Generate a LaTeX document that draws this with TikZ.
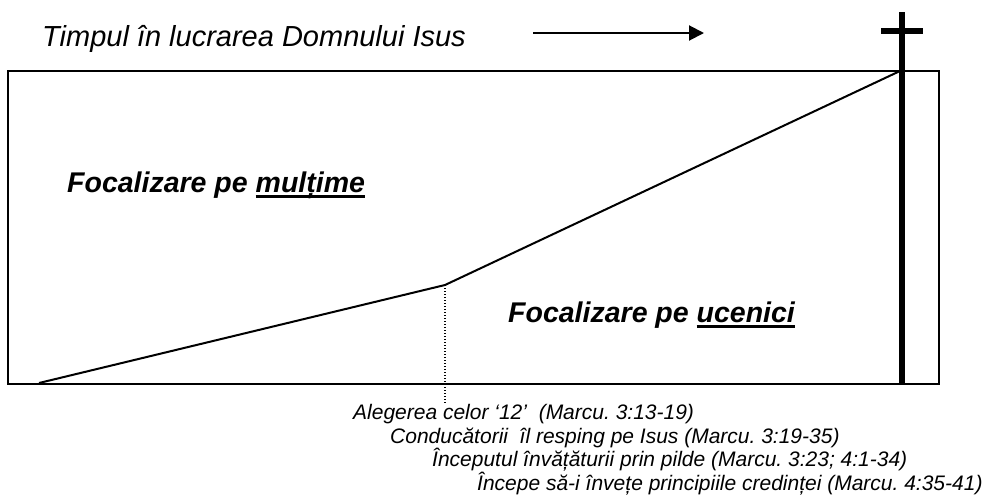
\documentclass[tikz,border=0pt]{standalone}
\usepackage{fontspec}
\setmainfont{Liberation Sans}
\usetikzlibrary{arrows.meta}
\frenchspacing

\tikzstyle{frame} = [line width=2pt, draw=black]
\tikzstyle{arrow} = [line width=2pt, -{Triangle[length=15pt,width=15pt]}]
\tikzstyle{timeline} = [line width=2pt, line join=round]
\tikzstyle{crossbeam} = [line width=6pt]
\tikzstyle{marker} = [line width=1.3pt, dash pattern=on 1.3pt off 1.7pt]
\tikzstyle{caption} = [anchor=base west, inner sep=0pt, font=\fontsize{29}{35}\selectfont\itshape]
\tikzstyle{focus} = [anchor=base west, inner sep=0pt, font=\fontsize{28.5}{34}\selectfont\bfseries\itshape]
\tikzstyle{event} = [anchor=base west, inner sep=0pt, font=\fontsize{21}{25}\selectfont\itshape]

\newcommand{\thickul}[1]{\setbox0\hbox{#1}\rlap{\rule[-6pt]{\wd0}{3pt}}\box0}

\begin{document}
\begin{tikzpicture}[x=1pt, y=-1pt]
\useasboundingbox (0,0) rectangle (990,498);

\node (title) [caption] at (42,46) {Timpul în lucrarea Domnului Isus};
\coordinate (arrowtail) at (533,33);
\coordinate (arrowtip) at (704,33);
\draw [arrow] (arrowtail) -- (arrowtip);

\draw [frame] (8,71) rectangle (939,384);

\coordinate (start) at (39,383);
\coordinate (bend) at (445,285);
\coordinate (peak) at (900,71);
\coordinate (dotend) at (445,403);
\draw [timeline] (start) -- (bend) -- (peak);
\draw [marker] (bend) -- (dotend);

% the cross
\coordinate (crosstop) at (902,12);
\coordinate (crossfoot) at (902,384);
\coordinate (beamleft) at (881,31);
\coordinate (beamright) at (923,31);
\draw [crossbeam] (crosstop) -- (crossfoot);
\draw [crossbeam] (beamleft) -- (beamright);

\node (crowd) [focus] at (67,192) {Focalizare pe \thickul{mulțime}};
\node (disciples) [focus] at (508,322) {Focalizare pe \thickul{ucenici}};

\node (ev1) [event] at (353,419) {Alegerea celor ‘12’ \ (Marcu. 3:13-19)};
\node (ev2) [event] at (390,443) {Conducătorii \ îl resping pe Isus (Marcu. 3:19-35)};
\node (ev3) [event] at (432,466) {Începutul învățăturii prin pilde (Marcu. 3:23; 4:1-34)};
\node (ev4) [event] at (477,490) {Începe să-i învețe principiile credinței (Marcu. 4:35-41)};

\end{tikzpicture}
\end{document}
